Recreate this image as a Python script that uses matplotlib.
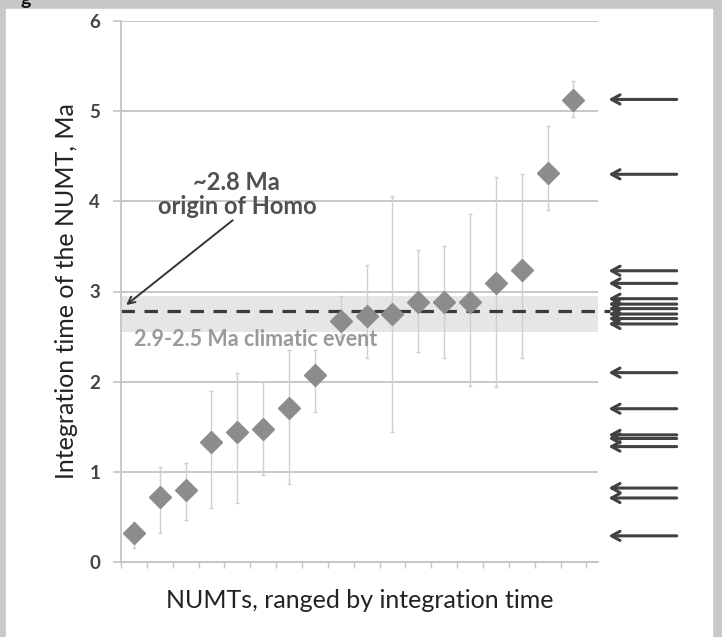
import matplotlib.pyplot as plt
import numpy as np

plt.rcParams['font.family'] = ['Lato', 'DejaVu Sans']

# integration time of each NUMT, Ma (sorted), with the ends of its error bar
numt_time = [0.32, 0.72, 0.80, 1.33, 1.44, 1.47, 1.71, 2.07, 2.67,
             2.73, 2.75, 2.88, 2.88, 2.88, 3.09, 3.24, 4.31, 5.12]
err_high = [0.44, 1.05, 1.10, 1.90, 2.10, 2.00, 2.35, 2.35, 2.95,
            3.29, 4.06, 3.46, 3.51, 3.86, 4.27, 4.30, 4.83, 5.34]
err_low = [0.15, 0.32, 0.47, 0.60, 0.65, 0.96, 0.87, 1.66, 2.50,
           2.26, 1.44, 2.33, 2.26, 1.95, 1.94, 2.26, 3.90, 4.93]

# levels of the arrows drawn at the right margin (slightly spread apart)
arrow_levels = [0.29, 0.71, 0.82, 1.28, 1.37, 1.41, 1.70, 2.10, 2.64,
                2.70, 2.75, 2.81, 2.86, 2.92, 3.09, 3.23, 4.30, 5.13]

homo_origin = 2.78          # dashed line
climatic_event = (2.55, 2.95)  # shaded band
y_ticks = [0, 1, 2, 3, 4, 5, 6]

n = len(numt_time)
x = np.arange(1, n + 1)
y = np.array(numt_time)
yerr = [y - np.array(err_low), np.array(err_high) - y]

fig = plt.figure(figsize=(7.22, 6.37), dpi=100)
fig.patch.set_facecolor('#c8c8c8')
# white sheet inside the grey frame
sheet = plt.Rectangle((6 / 722, 0), 706 / 722, 628 / 637,
                      transform=fig.transFigure, color='white', zorder=-10)
fig.add_artist(sheet)
fig.text(0.028, 1.0, 'g', fontsize=14, fontweight='bold', color='#111111',
         ha='left', va='center')

ax = fig.add_axes([121 / 722, 75 / 637, 477 / 722, 541 / 637])
ax.set_facecolor('none')
ax.set_xlim(0.5, 18.95)
ax.set_ylim(0, 6)

for s in ['top', 'right']:
    ax.spines[s].set_visible(False)
ax.spines['left'].set_color('#c4c4c4')
ax.spines['bottom'].set_color('#c4c4c4')
ax.spines['left'].set_linewidth(1.3)
ax.spines['bottom'].set_linewidth(1.3)

ax.set_yticks(y_ticks)
ax.set_yticklabels([str(t) for t in y_ticks], fontsize=13.5, fontweight='bold',
                   color='#444444')
ax.tick_params(axis='y', length=6, width=1.2, color='#c4c4c4', pad=9)
ax.set_xticks(np.arange(0.5, n + 1, 1.0))
ax.set_xticklabels([])
ax.tick_params(axis='x', length=4, width=1, color='#c4c4c4')
ax.grid(axis='y', color='#c8c8c8', lw=1.4, zorder=0)
ax.set_axisbelow(True)

ax.axhspan(*climatic_event, color='#e6e6e6', zorder=0.5, lw=0)

ax.errorbar(x, y, yerr=yerr, fmt='none', ecolor='#cfcfcf', elinewidth=1,
            capsize=1.5, capthick=1, zorder=1)
ax.plot(x, y, 'D', ms=10.8, color='#8c8c8c', mec='#8c8c8c', zorder=3)

ax.plot([0, 1.025], [homo_origin, homo_origin], transform=ax.get_yaxis_transform(),
        ls=(0, (4.2, 3)), lw=2.3, color='#3a3a3a', clip_on=False, zorder=2)

# arrows at the right, one per NUMT
for v in arrow_levels:
    ax.annotate('', xy=(1.022, v), xytext=(1.165, v),
                xycoords=ax.get_yaxis_transform(), textcoords=ax.get_yaxis_transform(),
                arrowprops=dict(arrowstyle='->,head_length=0.6,head_width=0.33',
                                lw=2.2, color='#424242', shrinkA=0, shrinkB=0),
                annotation_clip=False)

ax.text(4.98, 4.08, '~2.8 Ma\norigin of Homo', fontsize=17, fontweight='bold',
        color='#505050', ha='center', va='center', linespacing=1.05)
ax.annotate('', xy=(0.7, 2.85), xytext=(4.82, 3.79),
            arrowprops=dict(arrowstyle='->,head_length=0.5,head_width=0.25',
                            lw=1.4, color='#333333', shrinkA=0, shrinkB=0))
ax.text(1.0, 2.47, '2.9-2.5 Ma climatic event', fontsize=15.5, fontweight='bold',
        color='#9a9a9a', ha='left', va='center')

ax.set_ylabel('Integration time of the NUMT, Ma', fontsize=18, color='#222222',
              labelpad=8)
ax.set_xlabel('NUMTs, ranged by integration time', fontsize=18, color='#222222',
              labelpad=12)

fig.savefig('out.png', dpi=100, facecolor=fig.get_facecolor())
